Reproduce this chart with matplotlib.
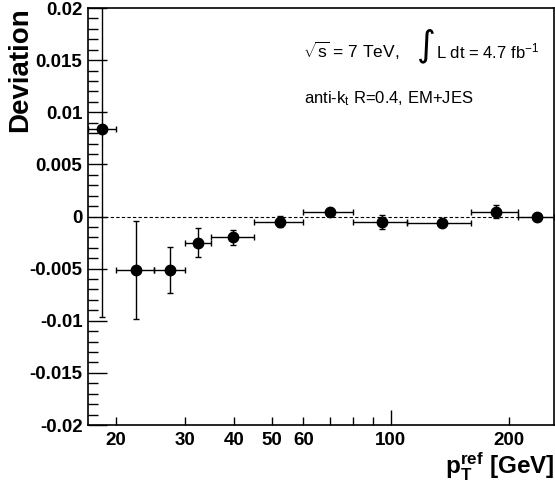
import matplotlib
matplotlib.use("Agg")
import matplotlib.pyplot as plt
from matplotlib.ticker import FixedLocator, FixedFormatter

plt.rcParams['font.family'] = ['Liberation Sans', 'DejaVu Sans']
plt.rcParams['mathtext.fontset'] = 'custom'
plt.rcParams['mathtext.rm'] = 'Liberation Sans'
plt.rcParams['mathtext.it'] = 'Liberation Sans:italic'
plt.rcParams['mathtext.bf'] = 'Liberation Sans:bold'

# bin edges, mean pT and deviation per bin
bin_lo = [17, 20, 25, 30, 35, 45, 60, 80, 110, 160, 210]
bin_hi = [20, 25, 30, 35, 45, 60, 80, 110, 160, 210, 260]
pt = [18.4, 22.5, 27.4, 32.4, 39.8, 52.4, 69.9, 95.0, 135.0, 185.6, 236.0]
dev = [0.0084, -0.0051, -0.0051, -0.0025, -0.0020, -0.0005, 0.0004, -0.00055, -0.00064, 0.00045, 0.0]
dev_err = [0.018, 0.0047, 0.0022, 0.0014, 0.0007, 0.00053, 0.0002, 0.00067, 0.0001, 0.00064, 0.0001]

y_ticks = [0.02, 0.015, 0.01, 0.005, 0, -0.005, -0.01, -0.015, -0.02]
y_labels = ['0.02', '0.015', '0.01', '0.005', '0', '-0.005', '-0.01', '-0.015', '-0.02']
x_minor = [20, 30, 40, 50, 60, 70, 80, 90, 200]
x_minor_labels = ['20', '30', '40', '50', '60', '', '', '', '200']

fig = plt.figure(figsize=(5.55, 4.9), dpi=100)
ax = fig.add_axes([88/555, 1 - 425/490, 466/555, 417/490])

xerr_lo = [p - l for p, l in zip(pt, bin_lo)]
xerr_hi = [h - p for p, h in zip(pt, bin_hi)]

ax.axhline(0, color='black', lw=0.8, ls=(0, (3, 2)), zorder=1)
ax.errorbar(pt, dev, xerr=[xerr_lo, xerr_hi], yerr=dev_err, fmt='o', color='black',
            ms=7.5, elinewidth=1.0, capsize=2.5, capthick=1.0, zorder=3)

ax.set_xscale('log')
ax.set_xlim(17, 260)
ax.set_ylim(-0.02, 0.02)

ax.xaxis.set_major_locator(FixedLocator([100]))
ax.xaxis.set_major_formatter(FixedFormatter(['100']))
ax.xaxis.set_minor_locator(FixedLocator(x_minor))
ax.xaxis.set_minor_formatter(FixedFormatter(x_minor_labels))
ax.set_yticks(y_ticks)
ax.set_yticklabels(y_labels)
ax.yaxis.set_minor_locator(FixedLocator([i / 1000 for i in range(-20, 21)]))

ax.tick_params(axis='both', which='both', direction='in', width=1.0, top=False, right=False)
ax.tick_params(axis='x', which='major', length=11, pad=5, labelsize=13.5)
ax.tick_params(axis='x', which='minor', length=5.5, pad=5, labelsize=13.5)
ax.tick_params(axis='y', which='major', length=14, pad=4, labelsize=13.5)
ax.tick_params(axis='y', which='minor', length=7)
for lab in ax.get_xticklabels(which='both') + ax.get_yticklabels():
    lab.set_fontweight('bold')
for s in ax.spines.values():
    s.set_linewidth(1.2)

fig.text(20/555, 1 - 7/490, 'Deviation', rotation=90, ha='center', va='top',
         fontsize=20, fontweight='bold')
fig.text(554/555, 1 - 474/490, r'$\mathbf{p}_{\mathbf{T}}^{\mathbf{ref}}$ [GeV]',
         ha='right', va='baseline', fontsize=17.5, fontweight='bold')

fig.text(303/555, 1 - 58/490, r'$\sqrt{\mathrm{s}}$ = 7 TeV,', ha='left', va='baseline', fontsize=12.5)
fig.text(426/555, 1 - 46/490, '\u222b', ha='center', va='center', fontsize=26,
         family='DejaVu Sans')
fig.text(436/555, 1 - 58/490, r'L dt = 4.7 fb$^{-1}$', ha='left', va='baseline', fontsize=12)
fig.text(304/555, 1 - 103/490, r'anti-k$_{\mathrm{t}}$ R=0.4, EM+JES', ha='left', va='baseline',
         fontsize=12)

fig.savefig('out.png', dpi=100)
